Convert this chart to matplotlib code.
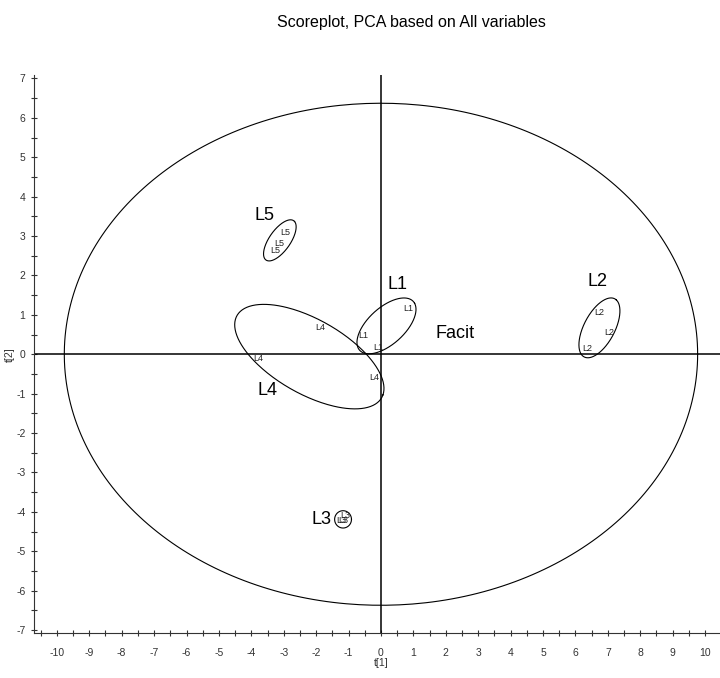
import numpy as np
import matplotlib
matplotlib.use("Agg")
import matplotlib.pyplot as plt
from matplotlib.ticker import MultipleLocator

plt.rcParams['font.family'] = ['Liberation Sans Narrow', 'Liberation Sans', 'DejaVu Sans']
plt.rcParams['axes.unicode_minus'] = False

# score values t[1], t[2] per observation
obs_labels = ["L5", "L5", "L5", "L1", "L1", "L1", "L2", "L2", "L2",
              "L4", "L4", "L4", "L3", "L3", "L3"]
t1 = [-2.96, -3.15, -3.27, 0.83, -0.56, -0.09, 6.73, 7.04, 6.36,
      -1.88, -3.80, -0.22, -1.17, -1.22, -1.10]
t2 = [3.10, 2.82, 2.64, 1.17, 0.48, 0.18, 1.07, 0.56, 0.15,
      0.69, -0.10, -0.60, -4.22, -4.22, -4.10]

# group ellipses: centre, semi axes, angle (deg, data units)
groups = ["L5", "L1", "L2", "L4", "L3"]
grp_cx = [-3.12, 0.17, 6.74, -2.21, -1.17]
grp_cy = [2.89, 0.72, 0.67, -0.06, -4.19]
grp_a = [0.66, 1.04, 0.88, 2.47, 0.26]
grp_b = [0.30, 0.50, 0.45, 0.98, 0.22]
grp_ang = [46.6, 33.4, 54.0, -23.2, 0.0]
grp_lx = [-3.58, 0.52, 6.67, -3.49, -1.85]
grp_ly = [3.53, 1.78, 1.85, -0.91, -4.20]

# Hotelling T2 ellipse
t2_a = 9.77
t2_b = 6.37


def ellipse_xy(cx, cy, a, b, ang):
    t = np.linspace(0, 2 * np.pi, 300)
    th = np.deg2rad(ang)
    x = cx + a * np.cos(t) * np.cos(th) - b * np.sin(t) * np.sin(th)
    y = cy + a * np.cos(t) * np.sin(th) + b * np.sin(t) * np.cos(th)
    return x, y


fig = plt.figure(figsize=(7.2, 6.78), dpi=100)
ax = fig.add_axes([0.047, 0.066, 0.953, 0.823])

ax.set_xlim(-10.71, 10.46)
ax.set_ylim(-7.08, 7.08)

ax.axhline(0, color="black", lw=1.1)
ax.axvline(0, color="black", lw=1.1)

x, y = ellipse_xy(0, 0, t2_a, t2_b, 0)
ax.plot(x, y, color="black", lw=0.8)

for i in range(len(groups)):
    x, y = ellipse_xy(grp_cx[i], grp_cy[i], grp_a[i], grp_b[i], grp_ang[i])
    ax.plot(x, y, color="black", lw=0.8)
    ax.text(grp_lx[i], grp_ly[i], groups[i], fontsize=13, ha="center", va="center")

for lab, px, py in zip(obs_labels, t1, t2):
    ax.text(px, py, lab, fontsize=6.5, ha="center", va="center", color="#222222")

ax.text(2.28, 0.53, "Facit", fontsize=13, ha="center", va="center")

for s in ["top", "right"]:
    ax.spines[s].set_visible(False)
for s in ["left", "bottom"]:
    ax.spines[s].set_color("#333333")

ax.xaxis.set_major_locator(MultipleLocator(1))
ax.xaxis.set_minor_locator(MultipleLocator(0.5))
ax.yaxis.set_major_locator(MultipleLocator(1))
ax.yaxis.set_minor_locator(MultipleLocator(0.5))
ax.tick_params(which="both", direction="inout", length=5, width=0.8, labelsize=7.5, colors="#333333")
ax.tick_params(axis="x", pad=8)

ax.set_xlabel("t[1]", fontsize=7.5, color="#333333")
ax.xaxis.set_label_coords((0 + 10.71) / 21.17, -0.045)
ax.set_ylabel("t[2]", fontsize=7.5, color="#333333")
ax.yaxis.set_label_coords(-0.027, 0.5)

fig.text(0.571, 0.967, "Scoreplot, PCA based on All variables", fontsize=11.5,
         ha="center", va="center")

plt.savefig("out.png", dpi=100)
